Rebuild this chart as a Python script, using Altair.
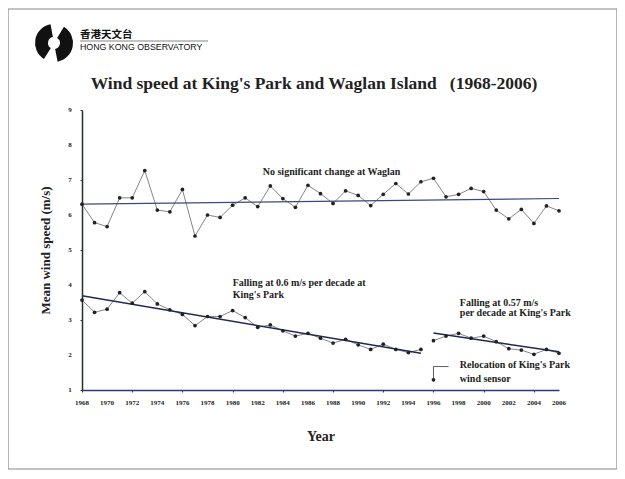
import altair as alt
import pandas as pd

years = list(range(1968, 2007))
waglan = [6.31, 5.78, 5.67, 6.49, 6.49, 7.27, 6.14, 6.09, 6.73, 5.40,
          6.00, 5.93, 6.28, 6.49, 6.24, 6.83, 6.47, 6.22, 6.85, 6.61,
          6.33, 6.69, 6.56, 6.27, 6.59, 6.90, 6.60, 6.95, 7.05, 6.52,
          6.59, 6.76, 6.67, 6.14, 5.89, 6.16, 5.76, 6.26, 6.12]
kp_years_1 = list(range(1968, 1996))
kp_1 = [3.57, 3.22, 3.31, 3.78, 3.48, 3.81, 3.46, 3.29, 3.16, 2.84,
        3.10, 3.10, 3.27, 3.07, 2.79, 2.86, 2.69, 2.54, 2.62, 2.48,
        2.34, 2.45, 2.29, 2.16, 2.31, 2.16, 2.07, 2.16]
kp_years_2 = list(range(1996, 2007))
kp_2 = [2.41, 2.54, 2.62, 2.48, 2.54, 2.38, 2.18, 2.14, 2.02, 2.16, 2.05]

trend_waglan_years = [1968, 2006]
trend_waglan = [6.31, 6.47]
trend_kp1_years = [1968, 1995]
trend_kp1 = [3.69, 2.05]
trend_kp2_years = [1996, 2006]
trend_kp2 = [2.63, 2.09]

reloc_years = [1996, 1996, 1997.2]
reloc_vals = [1.29, 1.67, 1.67]

x_ticks = list(range(1968, 2007))
x_labels = list(range(1968, 2007, 2))
y_ticks = list(range(1, 10))

SERIF = "Liberation Serif"
LINE_C = "#666666"
PT_C = "#222222"
TREND_C = "#1f2a55"

xs = alt.Scale(domain=[1968, 2006], nice=False, zero=False)
ys = alt.Scale(domain=[1, 9], nice=False, zero=False)

series = pd.concat([
    pd.DataFrame({"year": years, "v": waglan, "s": "Waglan"}),
    pd.DataFrame({"year": kp_years_1, "v": kp_1, "s": "KP1"}),
    pd.DataFrame({"year": kp_years_2, "v": kp_2, "s": "KP2"}),
])
trends_kp = pd.concat([
    pd.DataFrame({"year": trend_kp1_years, "v": trend_kp1, "s": "t1"}),
    pd.DataFrame({"year": trend_kp2_years, "v": trend_kp2, "s": "t2"}),
])
trend_w = pd.DataFrame({"year": trend_waglan_years, "v": trend_waglan})
reloc = pd.DataFrame({"year": reloc_years, "v": reloc_vals, "o": [0, 1, 2]})

X = alt.X("year:Q", scale=xs, title="Year",
          axis=alt.Axis(values=x_ticks, labels=False, tickSize=2,
                        tickColor="#334", domainColor="#2b3a7a", domainWidth=1.5,
                        titleFont=SERIF, titleFontSize=14, titleFontWeight="bold",
                        titlePadding=37, titleColor="#222", grid=False))
Y = alt.Y("v:Q", scale=ys, title="Mean wind speed (m/s)",
          axis=alt.Axis(values=y_ticks, labels=False,
                        tickSize=2, tickColor="#334", domainColor="#223322",
                        domainWidth=1.5, titleFont=SERIF, titleFontSize=13,
                        titleFontWeight="bold", titlePadding=27, titleColor="#222",
                        grid=False))

base = alt.Chart(series)
lines = base.mark_line(color=LINE_C, strokeWidth=0.8).encode(x=X, y=Y, detail="s:N")
points = base.mark_point(filled=True, color=PT_C, size=14, opacity=1).encode(
    x=X, y=Y)
trend = alt.Chart(trends_kp).mark_line(color=TREND_C, strokeWidth=1.5).encode(
    x=X, y=Y, detail="s:N")
trend2 = alt.Chart(trend_w).mark_line(color="#3a4a7a", strokeWidth=1.1).encode(
    x=X, y=Y)
reloc_line = alt.Chart(reloc).mark_line(color="#333", strokeWidth=0.8).encode(
    x=X, y=Y, order="o:Q")
reloc_pt = alt.Chart(reloc[reloc.o == 0]).mark_point(
    filled=True, color=PT_C, size=14, opacity=1).encode(x=X, y=Y)

xlab = alt.Chart(pd.DataFrame({"year": x_labels})).mark_text(
    font=SERIF, fontSize=7, fontWeight="bold", color="#222",
    align="center", baseline="middle").encode(
    x=alt.X("year:Q", scale=xs), y=alt.value(293), text=alt.Text("year:Q", format="d"))
ylab = alt.Chart(pd.DataFrame({"v": y_ticks})).mark_text(
    font=SERIF, fontSize=7, fontWeight="bold", color="#222",
    align="center", baseline="middle").encode(
    y=alt.Y("v:Q", scale=ys), x=alt.value(-12), text=alt.Text("v:Q", format="d"))

one = pd.DataFrame({"a": [0]})


def note(txt, xv, yv, size=10):
    return alt.Chart(one).mark_text(
        text=txt, font=SERIF, fontSize=size, fontWeight="bold", color="#222",
        align="left", baseline="middle").encode(x=alt.datum(xv), y=alt.datum(yv))


notes = [
    note("No significant change at Waglan", 1982.4, 7.23),
    note("Falling at 0.6 m/s per decade at", 1980.0, 4.06),
    note("King's Park", 1980.0, 3.71),
    note("Falling at 0.57 m/s", 1998.1, 3.49),
    note("per decade at King's Park", 1998.1, 3.21),
    note("Relocation of King's Park", 1998.1, 1.71),
    note("wind sensor", 1998.1, 1.31),
]

title = alt.Chart(one).mark_text(
    text="Wind speed at King's Park and Waglan Island\u00a0\u00a0\u00a0(1968-2006)",
    font=SERIF, fontSize=17.5, fontWeight="bold", color="#222",
    align="center", baseline="middle").encode(x=alt.value(232), y=alt.value(-26))

frame = alt.Chart(one).mark_rect(fillOpacity=0, stroke="#888", strokeWidth=1.2).encode(
    x=alt.value(-74), x2=alt.value(535), y=alt.value(-101), y2=alt.value(359))

logo1 = alt.Chart(one).mark_arc(color="#111", radius=19, radius2=6,
                                theta=3.7, theta2=6.1).encode(
    x=alt.value(-28), y=alt.value(-67))
logo2 = alt.Chart(one).mark_arc(color="#111", radius=19, radius2=6,
                                theta=0.55, theta2=2.95).encode(
    x=alt.value(-28), y=alt.value(-67))
logo_cn = alt.Chart(one).mark_text(
    text="香港天文台", font="Noto Sans CJK TC", fontSize=10.5, fontWeight="bold",
    color="#111", align="left", baseline="middle").encode(
    x=alt.value(-2), y=alt.value(-75))
logo_en = alt.Chart(one).mark_text(
    text="HONG KONG OBSERVATORY", font="Liberation Sans", fontSize=8.8,
    color="#111", align="left", baseline="middle").encode(
    x=alt.value(-2), y=alt.value(-63))
logo_rule = alt.Chart(one).mark_rule(color="#666", strokeWidth=0.8).encode(
    x=alt.value(-2), x2=alt.value(126), y=alt.value(-69))

chart = alt.layer(
    frame, lines, trend2, trend, points, reloc_line, reloc_pt, xlab, ylab, *notes,
    title, logo1, logo2, logo_cn, logo_en, logo_rule
).properties(
    width=477, height=280,
    padding={"left": 74, "top": 102, "right": 58, "bottom": 81},
    autosize=alt.AutoSizeParams(type="none"),
    background="white",
).configure_view(stroke=None)

chart.save("out.html", embed_options={"renderer": "svg", "actions": False})
